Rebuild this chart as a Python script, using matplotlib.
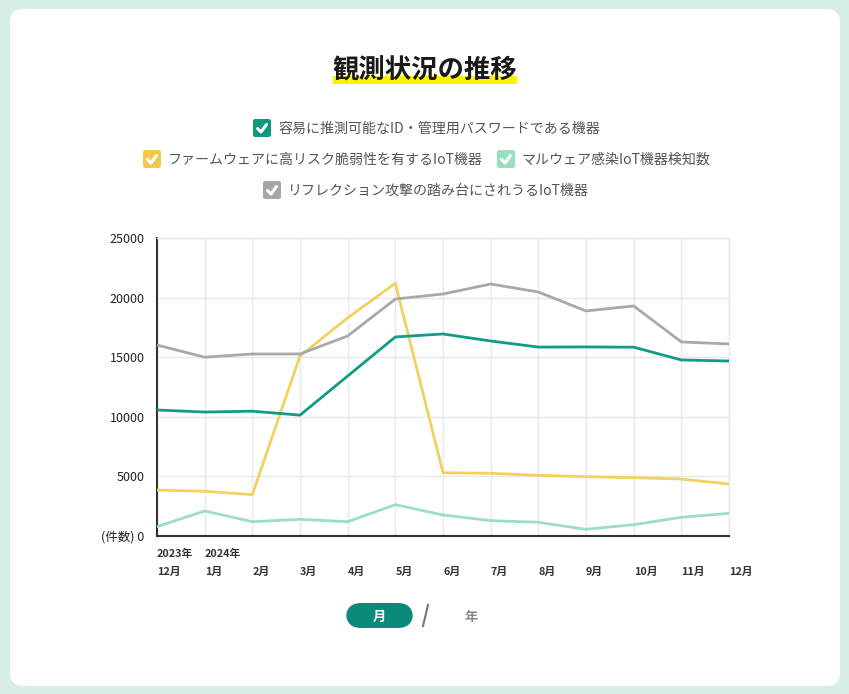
import matplotlib
matplotlib.use("Agg")
import matplotlib.pyplot as plt
from matplotlib.patches import FancyBboxPatch, Rectangle
from matplotlib.lines import Line2D
from matplotlib.transforms import blended_transform_factory

plt.rcParams['font.family'] = ['Noto Sans CJK JP', 'DejaVu Sans']

# ---- data ----
months = ["12月", "1月", "2月", "3月", "4月", "5月", "6月", "7月", "8月", "9月", "10月", "11月", "12月"]
years = {0: "2023年", 1: "2024年"}
series_names = ["容易に推測可能なID・管理用パスワードである機器",
                "ファームウェアに高リスク脆弱性を有するIoT機器",
                "マルウェア感染IoT機器検知数",
                "リフレクション攻撃の踏み台にされうるIoT機器"]
weak_password = [10570, 10400, 10470, 10140, 13420, 16700, 16950, 16360, 15850, 15860, 15840, 14770, 14680]
firmware_vuln = [3860, 3750, 3470, 15100, 18300, 21200, 5310, 5260, 5090, 4980, 4890, 4780, 4360]
malware = [780, 2100, 1200, 1400, 1200, 2630, 1760, 1290, 1150, 560, 950, 1570, 1900]
reflection = [16020, 15000, 15270, 15270, 16780, 19880, 20300, 21140, 20470, 18880, 19300, 16280, 16110]
y_ticks = [0, 5000, 10000, 15000, 20000, 25000]
y_labels = ["(件数) 0", "5000", "10000", "15000", "20000", "25000"]

colors = ["#119b86", "#f2d161", "#9bdfbf", "#a9a9a9"]
box_colors = ["#0d9a80", "#f2c94c", "#98dfbe", "#a6a6a6"]

W, H = 849, 694
fig = plt.figure(figsize=(W / 100, H / 100), dpi=100)
fig.patch.set_facecolor("#d8eee8")

def fx(px):
    return px / W

def fy(py):
    return 1 - py / H

# card
card = FancyBboxPatch((fx(10), fy(686)), fx(830), (686 - 9) / H,
                      boxstyle="round,pad=0,rounding_size=0.016",
                      transform=fig.transFigure, facecolor="white", edgecolor="none",
                      mutation_aspect=W / H, zorder=-5)
fig.patches.append(card)

# title with highlight
fig.patches.append(Rectangle((fx(333), fy(84)), fx(517 - 333), (84 - 76) / H,
                             transform=fig.transFigure, facecolor="#fff200",
                             edgecolor="none", zorder=1))
fig.text(fx(425), fy(71), "観測状況の推移", ha="center", va="center",
         fontsize=19, fontweight="bold", color="#1a1a1a", zorder=2)

# legend
def legend_item(x_box, y_c, color, label):
    s = 18
    box = FancyBboxPatch((fx(x_box), fy(y_c + s / 2)), fx(s), s / H,
                         boxstyle="round,pad=0,rounding_size=0.003",
                         transform=fig.transFigure, facecolor=color,
                         edgecolor="none", zorder=2)
    fig.patches.append(box)
    xs = [x_box + 4.5, x_box + 8, x_box + 13.5]
    ys = [y_c + 0.5, y_c + 4, y_c - 3.5]
    fig.lines.append(Line2D([fx(v) for v in xs], [fy(v) for v in ys],
                            transform=fig.transFigure, color="white", lw=2.2,
                            solid_capstyle="round", solid_joinstyle="round", zorder=3))
    fig.text(fx(x_box + 25), fy(y_c + 1), label, ha="left", va="center",
             fontsize=10.1, color="#555555", zorder=3)

legend_item(253, 128, box_colors[0], series_names[0])
legend_item(143, 159, box_colors[1], series_names[1])
legend_item(497, 159, box_colors[2], series_names[2])
legend_item(263, 190, box_colors[3], series_names[3])

# axes
ax = fig.add_axes([fx(157), fy(536), fx(729 - 157), (536 - 238) / H])
ax.set_zorder(1)
ax.set_facecolor("white")
x = list(range(len(months)))
data = [weak_password, firmware_vuln, malware, reflection]
order = [2, 1, 0, 3]
for i in order:
    ax.plot(x, data[i], color=colors[i], lw=2.0, solid_joinstyle="round", zorder=3)

ax.set_xlim(0, len(months) - 1)
ax.set_ylim(0, 25000)
ax.set_yticks(y_ticks)
ax.set_yticklabels(y_labels, fontsize=9, color="#222222")
ax.set_xticks(x)
ax.set_xticklabels(months, fontsize=7.8, color="#333333", ha="left", fontweight="bold")
ax.tick_params(axis="x", length=0, pad=22)
ax.tick_params(axis="y", length=0, pad=9)
ax.grid(True, color="#e9e9e9", lw=1.0, zorder=0)
ax.set_axisbelow(True)
for side in ["top", "right"]:
    ax.spines[side].set_color("#e9e9e9")
    ax.spines[side].set_linewidth(1.0)
for side in ["left", "bottom"]:
    ax.spines[side].set_color("#333333")
    ax.spines[side].set_linewidth(1.5)

trans = blended_transform_factory(ax.transData, fig.transFigure)
for xi, lab in years.items():
    ax.text(xi, fy(554), lab, transform=trans, ha="left", va="center",
            fontsize=7.8, fontweight="bold", color="#333333")

# toggle
pill = FancyBboxPatch((fx(346), fy(628)), fx(413 - 346), (628 - 603) / H,
                      boxstyle="round,pad=0,rounding_size=0.018",
                      transform=fig.transFigure, facecolor="#0b8a79",
                      edgecolor="none", mutation_aspect=W / H, zorder=2)
fig.patches.append(pill)
fig.text(fx(379.5), fy(616.5), "月", ha="center", va="center", fontsize=9.5,
         fontweight="bold", color="white", zorder=3)
fig.lines.append(Line2D([fx(423), fx(428)], [fy(626), fy(605)], transform=fig.transFigure,
                        color="#777777", lw=1.5, zorder=3))
fig.text(fx(471), fy(617), "年", ha="center", va="center", fontsize=9.5,
         fontweight="bold", color="#888888", zorder=3)

fig.savefig("out.png", dpi=100, facecolor=fig.get_facecolor())
